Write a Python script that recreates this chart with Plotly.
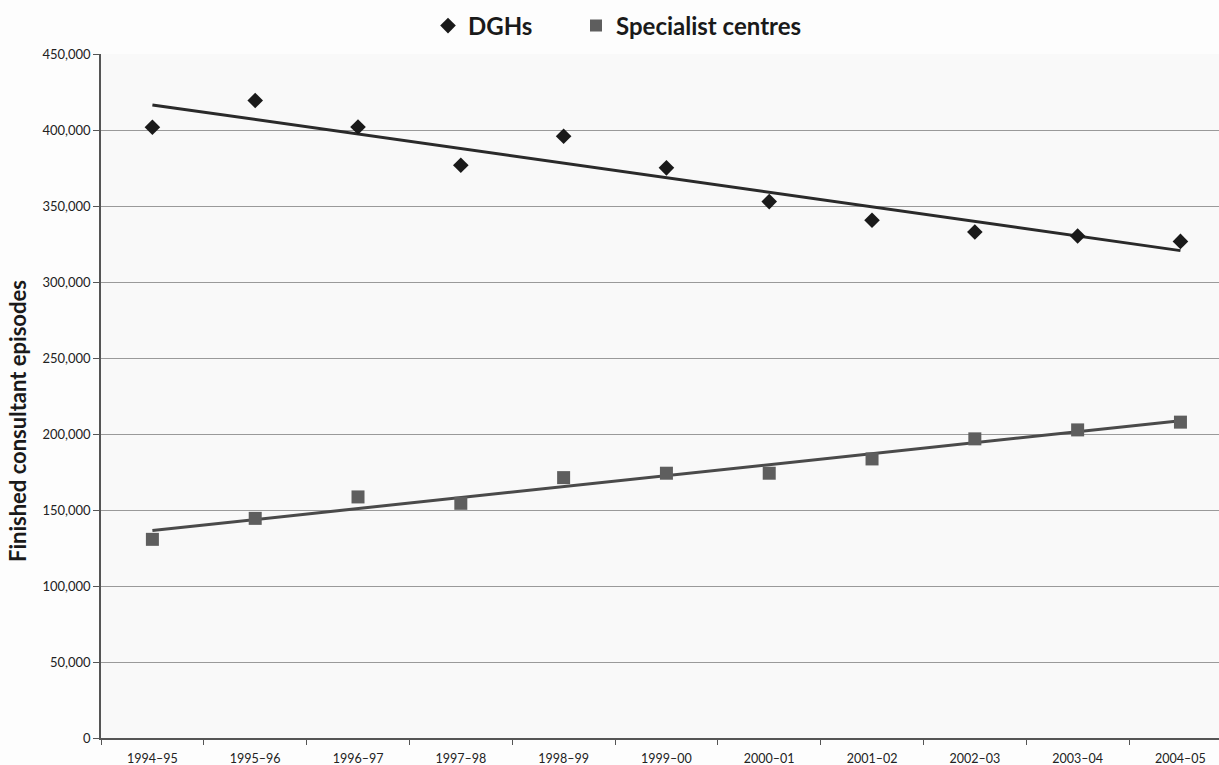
import numpy as np
import plotly.graph_objects as go

years = ["1994–95", "1995–96", "1996–97", "1997–98", "1998–99", "1999–00",
         "2000–01", "2001–02", "2002–03", "2003–04", "2004–05"]
dghs = [401800, 419400, 402000, 376800, 395900, 375100,
        352900, 340600, 332900, 330300, 326700]
specialist = [130700, 144500, 158600, 154400, 171300, 174200,
              174200, 183600, 196800, 202700, 207800]

idx = np.arange(len(years))
fit_d = np.polyfit(idx, dghs, 1)
fit_s = np.polyfit(idx, specialist, 1)
trend_d = np.polyval(fit_d, idx[[0, -1]])
trend_s = np.polyval(fit_s, idx[[0, -1]])

FONT = "Lato"

fig = go.Figure()
fig.add_trace(go.Scatter(x=[years[0], years[-1]], y=trend_d, mode="lines",
                         line=dict(color="#2a2a2a", width=3), showlegend=False, hoverinfo="skip"))
fig.add_trace(go.Scatter(x=[years[0], years[-1]], y=trend_s, mode="lines",
                         line=dict(color="#4a4a4a", width=3), showlegend=False, hoverinfo="skip"))
fig.add_trace(go.Scatter(x=years, y=dghs, mode="markers", name="DGHs", legend="legend",
                         marker=dict(symbol="diamond", size=12, color="#1a1a1a")))
fig.add_trace(go.Scatter(x=years, y=specialist, mode="markers", name="Specialist centres",
                         legend="legend2",
                         marker=dict(symbol="square", size=13, color="#5e5e5e")))

leg_common = dict(orientation="h", xanchor="left", yanchor="middle", y=(738 - 26) / 684,
                  font=dict(family=FONT, size=24, color="#1a1a1a", weight="bold"),
                  bgcolor="rgba(0,0,0,0)", itemsizing="constant")

fig.update_layout(
    width=1219, height=765,
    margin=dict(l=101, r=0, t=54, b=27),
    paper_bgcolor="#fdfdfd",
    plot_bgcolor="#f9f9f9",
    font=dict(family=FONT, color="#222"),
    showlegend=True,
    legend=dict(x=(428 - 101) / 1118, **leg_common),
    legend2=dict(x=(576 - 101) / 1118, **leg_common),
    annotations=[dict(text="<b>Finished consultant episodes</b>", textangle=-90,
                      xref="paper", yref="paper", x=(18 - 101) / 1118, y=(738 - 421) / 684,
                      xanchor="center", yanchor="middle", showarrow=False,
                      font=dict(family=FONT, size=22, color="#1a1a1a"))],
)
fig.update_xaxes(
    type="category", categoryorder="array", categoryarray=years,
    range=[-0.5, 10.375], tickson="boundaries", ticks="outside", ticklen=5,
    tickcolor="#555", showline=True, linecolor="#555", linewidth=1.5,
    showgrid=False, tickfont=dict(size=12.5, color="#222"), ticklabelstandoff=8,
    fixedrange=True,
)
fig.update_yaxes(
    range=[0, 450000], dtick=50000, tickformat=",", ticks="outside", ticklen=6,
    tickcolor="#555", showline=True, linecolor="#555", linewidth=1.5,
    showgrid=True, gridcolor="#9a9a9a", gridwidth=1, zeroline=False,
    tickfont=dict(size=13, color="#222"),
)
fig.write_html("out.html", config={"displayModeBar": False},
               post_script="document.body.style.margin='0';document.body.style.overflow='hidden';")
